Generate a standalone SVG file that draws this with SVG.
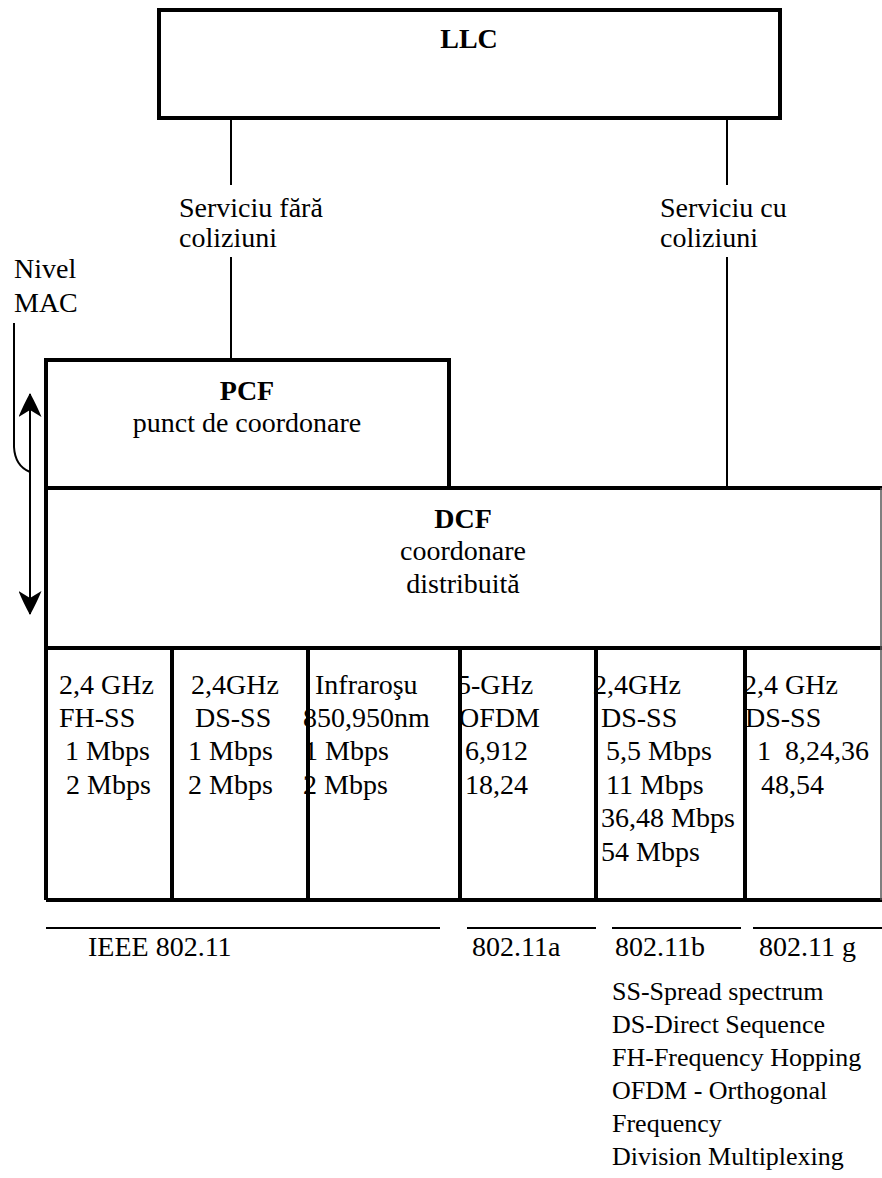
<svg xmlns="http://www.w3.org/2000/svg" width="882" height="1178" viewBox="0 0 882 1178">
<style>
text{font-family:"Liberation Serif","Times New Roman",serif;font-size:28px;fill:#000}
.b{font-weight:bold}
.lg{font-size:26px}
.box{fill:none;stroke:#000;stroke-width:4}
.cell{fill:none;stroke:#000;stroke-width:4}
.conn{fill:none;stroke:#000;stroke-width:2}
.rule{stroke:#000;stroke-width:2}
</style>
<defs>
<marker id="ah" viewBox="0 0 24 23" refX="23" refY="11.5" markerWidth="24" markerHeight="23" markerUnits="userSpaceOnUse" orient="auto-start-reverse">
<path d="M24,11.5 Q10,4 0,0 L7,11.5 L0,23 Q10,19 24,11.5 Z" fill="#000"/>
</marker>
</defs>
<rect width="882" height="1178" fill="#fff"/>

<g id="llc">
<rect class="box" x="159" y="10" width="621" height="108"/>
<text class="b" x="469" y="48" text-anchor="middle">LLC</text>
</g>

<g id="label-fara">
<text x="179" y="217">Serviciu fără</text>
<text x="179" y="247">coliziuni</text>
</g>
<g id="label-cu">
<text x="660" y="217">Serviciu cu</text>
<text x="660" y="247">coliziuni</text>
</g>

<g id="nivel-mac">
<text x="14" y="278">Nivel</text>
<text x="14" y="312">MAC</text>
</g>

<g id="columns">
<g id="col1">
<text><tspan x="59" y="694">2,4 GHz</tspan><tspan x="59" y="727">FH-SS</tspan><tspan x="65" y="760">1 Mbps</tspan><tspan x="66" y="794">2 Mbps</tspan></text>
</g>
<g id="col2">
<text><tspan x="191" y="694">2,4GHz</tspan><tspan x="195" y="727">DS-SS</tspan><tspan x="188" y="760">1 Mbps</tspan><tspan x="188" y="794">2 Mbps</tspan></text>
</g>
<g id="col3">
<text><tspan x="315" y="694">Infraroşu</tspan><tspan x="303" y="727">850,950nm</tspan><tspan x="304" y="760">1 Mbps</tspan><tspan x="303" y="794">2 Mbps</tspan></text>
</g>
<g id="col4">
<text><tspan x="457" y="694">5-GHz</tspan><tspan x="459" y="727">OFDM</tspan><tspan x="465" y="760">6,912</tspan><tspan x="465" y="794">18,24</tspan></text>
</g>
<g id="col5">
<text><tspan x="593" y="694">2,4GHz</tspan><tspan x="601" y="727">DS-SS</tspan><tspan x="606" y="760">5,5 Mbps</tspan><tspan x="606" y="794">11 Mbps</tspan><tspan x="601" y="827">36,48 Mbps</tspan><tspan x="601" y="861">54 Mbps</tspan></text>
</g>
<g id="col6">
<text><tspan x="743" y="694">2,4 GHz</tspan><tspan x="745" y="727">DS-SS</tspan><tspan x="757" y="760" xml:space="preserve">1  8,24,36</tspan><tspan x="761" y="794">48,54</tspan></text>
</g>
<path class="cell" d="M46,648 L882,648 M46,900 L882,900 M46,648 L46,900 M172,648 L172,900 M308,648 L308,900 M460,648 L460,900 M596,648 L596,900 M745,648 L745,900"/>
<line x1="881" y1="648" x2="881" y2="900" stroke="#555" stroke-width="1.5"/>
</g>

<g id="pcf">
<path class="box" d="M46,488 L46,360 L449,360 L449,488"/>
<text class="b" x="247" y="400" text-anchor="middle">PCF</text>
<text x="247" y="432" text-anchor="middle">punct de coordonare</text>
</g>

<g id="dcf">
<path class="box" d="M46,488 L882,488 M46,488 L46,648"/>
<line x1="881" y1="488" x2="881" y2="648" stroke="#555" stroke-width="1.5"/>
<text class="b" x="463" y="528" text-anchor="middle">DCF</text>
<text x="463" y="560" text-anchor="middle">coordonare</text>
<text x="463" y="593" text-anchor="middle">distribuită</text>
</g>

<g id="standards">
<line class="rule" x1="46" y1="928" x2="440" y2="928"/>
<line class="rule" x1="467" y1="928" x2="596" y2="928"/>
<line class="rule" x1="612" y1="928" x2="741" y2="928"/>
<line class="rule" x1="753" y1="928" x2="882" y2="928"/>
<text x="88" y="956">IEEE 802.11</text>
<text x="472" y="956">802.11a</text>
<text x="615" y="956">802.11b</text>
<text x="759" y="956">802.11 g</text>
</g>

<g id="legend">
<text class="lg" x="612" y="1000">SS-Spread spectrum</text>
<text class="lg" x="612" y="1033">DS-Direct Sequence</text>
<text class="lg" x="612" y="1066">FH-Frequency Hopping</text>
<text class="lg" x="612" y="1099">OFDM - Orthogonal</text>
<text class="lg" x="612" y="1132">Frequency</text>
<text class="lg" x="612" y="1165">Division Multiplexing</text>
</g>

<g id="connectors">
<path class="conn" d="M231,118 L231,185 M231,257 L231,360"/>
<path class="conn" d="M727,118 L727,185 M727,257 L727,488"/>
<path class="conn" d="M14,323 L14,447 Q15,466 30,472" stroke-width="1.5"/>
<line class="conn" x1="30" y1="394" x2="30" y2="614" marker-start="url(#ah)" marker-end="url(#ah)"/>
</g>
</svg>
